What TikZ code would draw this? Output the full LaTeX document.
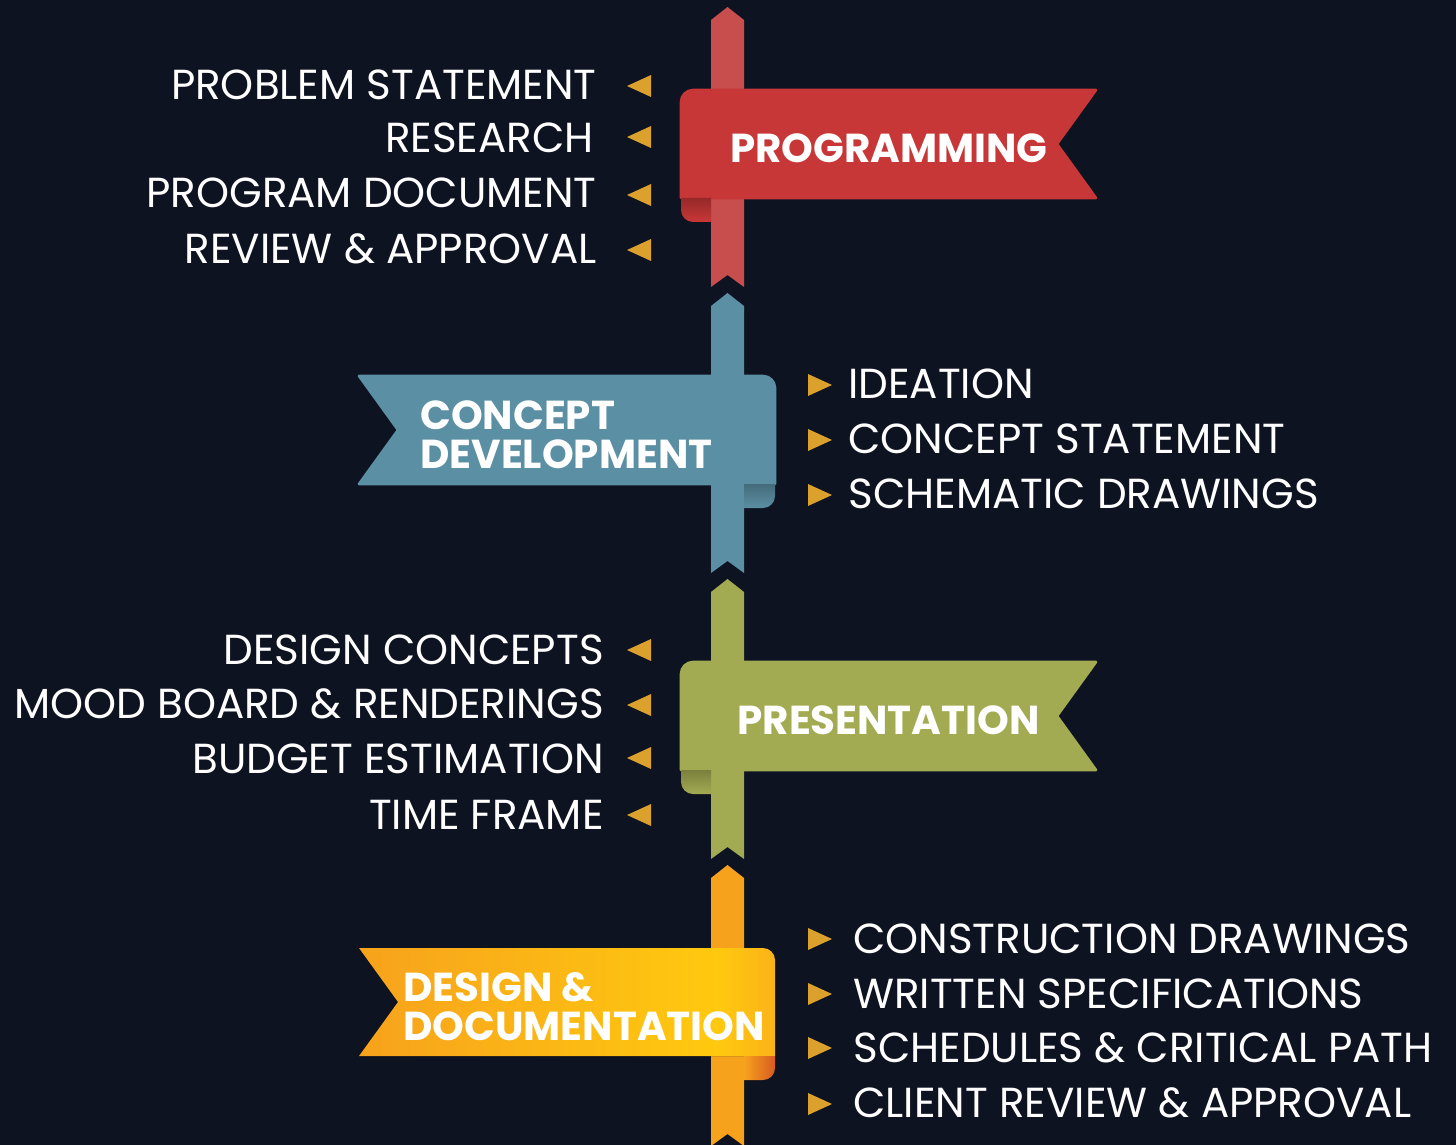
\documentclass[tikz,border=0pt]{standalone}
\usepackage{fontspec}
\setmainfont{Poppins}
\definecolor{bgnavy}{HTML}{0E1322}
\definecolor{progred}{HTML}{C83737}
\definecolor{progrib}{HTML}{C84D4D}
\definecolor{concblue}{HTML}{5B8FA3}
\definecolor{presgreen}{HTML}{A3AB52}
\definecolor{docorange}{HTML}{F7A21C}
\definecolor{docyellow}{HTML}{FFC90F}
\definecolor{docend}{HTML}{FBB318}
\definecolor{doccurl}{HTML}{D85A22}
\definecolor{bulletgold}{HTML}{DCA02C}
\pgfdeclarehorizontalshading{docshade}{100bp}{color(0bp)=(docorange); color(25bp)=(docorange); color(68bp)=(docyellow); color(75bp)=(docend); color(100bp)=(docend)}
% vertical ribbon piece: colour, top, bottom
\def\ribbon#1#2#3{\fill[#1] (711,#2+13) -- (727.5,#2) -- (744,#2+13) -- (744,#3) -- (727.5,#3-12) -- (711,#3) -- cycle;}
% flag pointing right / left: colour, top
\def\flagR#1#2{\fill[#1, draw=#1, line width=1.5pt, line join=round] (681,#2+12) arc (180:270:12) -- (1096,#2) -- (1057,#2+54) -- (1096,#2+108) -- (681,#2+108) -- cycle;}
\def\flagL[#1]#2{\fill[#1, line join=round] (359,#2) -- (763,#2) arc (270:360:12) -- (775,#2+108) -- (359,#2+108) -- (398,#2+54) -- cycle;}
\def\curlL[#1]#2{\shade[#1] (681,#2+108) -- (711,#2+108) -- (711,#2+132) -- (693,#2+132) arc (90:180:12) -- cycle;}
\def\curlR[#1]#2{\shade[#1] (744,#2+108) -- (775,#2+108) -- (775,#2+120) arc (0:90:12) -- (744,#2+132) -- cycle;}
\def\lbul#1{\fill[bulletgold] (627,#1) -- (651,#1-11) -- (651,#1+11) -- cycle;}
\def\rbul#1{\fill[bulletgold] (832,#1) -- (808,#1-11) -- (808,#1+11) -- cycle;}

\begin{document}
\begin{tikzpicture}[x=0.02cm, y=-0.02cm,
    item/.style={text=white, inner sep=0pt, font=\fontsize{23.9}{28}\selectfont},
    title/.style={text=white, inner sep=0pt, align=left, font=\fontsize{23}{22}\selectfont\bfseries}]
	%%%%% START %%%%%
	\fill[bgnavy] (0,0) rectangle (1456,1145);
	\useasboundingbox (0,0) rectangle (1456,1145);
	
	\ribbon{progrib}{7}{287}
	\ribbon{concblue}{293}{573}
	\ribbon{presgreen}{579}{859}
	\ribbon{docorange}{865}{1146}
	
	\flagR{progred}{90}
	\curlL[top color=progred!75!black, bottom color=progred]{90}
	\flagL[concblue, draw=concblue, line width=1.5pt]{376}
	\curlR[top color=concblue!75!black, bottom color=concblue]{376}
	\flagR{presgreen}{662}
	\curlL[top color=presgreen!75!black, bottom color=presgreen]{662}
	\flagL[shading=docshade]{948}
	\curlR[left color=docorange, right color=doccurl]{948}
	
	\node[title] (prog) at (889,148) {PROGRAMMING};
	\node[title, anchor=west] (conc) at (420,434.5) {CONCEPT\\DEVELOPMENT};
	\node[title] (pres) at (888.5,720) {PRESENTATION};
	\node[title, anchor=west] (doc) at (403,1006.5) {DESIGN \&\\DOCUMENTATION};
	
	\lbul{86} \lbul{137} \lbul{195} \lbul{250}
	\node[item, anchor=east] (prob) at (597,85) {PROBLEM STATEMENT};
	\node[item, anchor=east] (res) at (594,138) {RESEARCH};
	\node[item, anchor=east] (pdoc) at (597,193) {PROGRAM DOCUMENT};
	\node[item, anchor=east] (rev) at (597,249) {REVIEW \& APPROVAL};
	
	\rbul{385} \rbul{440} \rbul{495}
	\node[item, anchor=west] (idea) at (848,384) {IDEATION};
	\node[item, anchor=west] (cstat) at (848,439) {CONCEPT STATEMENT};
	\node[item, anchor=west] (schem) at (848,494) {SCHEMATIC DRAWINGS};
	
	\lbul{650} \lbul{705} \lbul{758} \lbul{815}
	\node[item, anchor=east] (dcon) at (604,650) {DESIGN CONCEPTS};
	\node[item, anchor=east] (mood) at (604,704) {MOOD BOARD \& RENDERINGS};
	\node[item, anchor=east] (budg) at (604,759) {BUDGET ESTIMATION};
	\node[item, anchor=east] (time) at (604,815) {TIME FRAME};
	
	\rbul{939} \rbul{994} \rbul{1048} \rbul{1104}
	\node[item, anchor=west] (cdraw) at (853,939) {CONSTRUCTION DRAWINGS};
	\node[item, anchor=west] (spec) at (853,994) {WRITTEN SPECIFICATIONS};
	\node[item, anchor=west] (sched) at (853,1048) {SCHEDULES \& CRITICAL PATH};
	\node[item, anchor=west] (client) at (853,1103) {CLIENT REVIEW \& APPROVAL};
	%%%%% END %%%%%
\end{tikzpicture}
\end{document}
